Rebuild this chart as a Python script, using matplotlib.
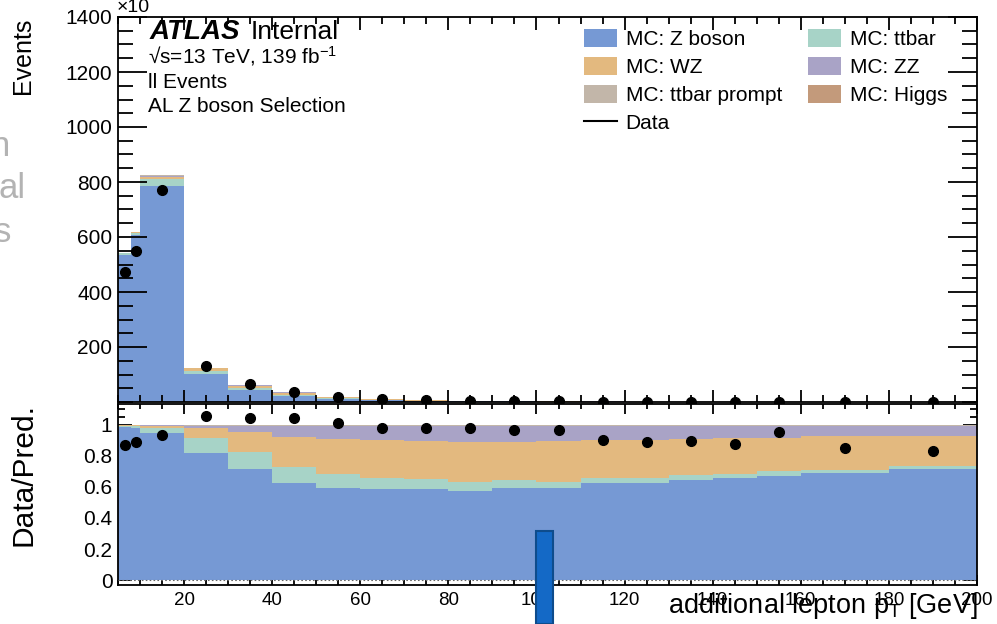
import matplotlib
matplotlib.use('Agg')
import matplotlib.pyplot as plt
import numpy as np
from matplotlib.patches import Rectangle, Patch
from matplotlib.lines import Line2D
from matplotlib.ticker import MultipleLocator, FixedLocator, FixedFormatter

plt.rcParams['font.family'] = ['Liberation Sans', 'DejaVu Sans']
plt.rcParams['mathtext.fontset'] = 'custom'
plt.rcParams['mathtext.rm'] = 'Liberation Sans'
plt.rcParams['mathtext.it'] = 'Liberation Sans:italic'
plt.rcParams['mathtext.bf'] = 'Liberation Sans:bold'

# ---------------- data (Events, x10) ----------------
bin_edges = [5, 8, 10, 20, 30, 40, 50, 60, 70, 80, 90, 100, 110, 120, 130,
             140, 150, 160, 180, 200]
z_boson = [534, 607, 785, 102, 44.6, 22.0, 11.6, 7.02, 4.72, 3.04, 2.15, 1.54,
           1.19, 0.88, 0.68, 0.525, 0.404, 0.31, 0.214]
ttbar = [6.5, 9.0, 25.0, 12.1, 6.7, 3.64, 1.68, 0.85, 0.51, 0.31, 0.17, 0.11,
         0.06, 0.045, 0.029, 0.023, 0.016, 0.0104, 0.0066]
wz = [0.5, 0.8, 8.0, 8.1, 8.0, 6.76, 4.49, 2.96, 1.94, 1.38, 0.90, 0.69,
      0.47, 0.345, 0.248, 0.183, 0.131, 0.097, 0.059]
zz = [0.5, 0.8, 5.0, 2.1, 2.4, 2.45, 1.62, 1.10, 0.78, 0.54, 0.37, 0.25,
      0.17, 0.126, 0.089, 0.065, 0.046, 0.031, 0.019]
ttbar_prompt = [0.6, 0.8, 1.5, 0.35, 0.2, 0.1, 0.06, 0.04, 0.03, 0.02, 0.012,
                0.008, 0.006, 0.004, 0.003, 0.002, 0.0016, 0.0013, 0.0009]
higgs = [0.4, 0.5, 0.8, 0.25, 0.15, 0.08, 0.04, 0.03, 0.02, 0.01, 0.008,
         0.005, 0.004, 0.003, 0.002, 0.0015, 0.001, 0.001, 0.0007]
data = [471, 550, 772, 132, 64.7, 36.5, 19.7, 11.8, 7.82, 5.21, 3.5, 2.52,
        1.72, 1.25, 0.94, 0.70, 0.571, 0.385, 0.25]

labels = ['MC: Z boson', 'MC: ttbar', 'MC: WZ', 'MC: ZZ', 'MC: ttbar prompt', 'MC: Higgs']
colors = ['#7699d4', '#a7d3c7', '#e3b97f', '#a9a3c6', '#c2b6a9', '#c39a7b']

y_ticks = [200, 400, 600, 800, 1000, 1200, 1400]
r_ticks = [0, 0.2, 0.4, 0.6, 0.8, 1.0]
r_ticklabels = ['0', '0.2', '0.4', '0.6', '0.8', '1']

# ---------------- figure ----------------
W, H = 997, 624
fig = plt.figure(figsize=(W / 100, H / 100), dpi=100)


def fx(px):
    return px / W


def fy(py):
    return 1 - py / H


ax1 = fig.add_axes([fx(118), fy(402), (977 - 118) / W, (402 - 17) / H])
ax2 = fig.add_axes([fx(118), fy(585), (977 - 118) / W, (585 - 404) / H])

edges = np.array(bin_edges, dtype=float)
centers = 0.5 * (edges[:-1] + edges[1:])
comps = [np.array(c, dtype=float) for c in [z_boson, ttbar, wz, zz, ttbar_prompt, higgs]]
total = np.sum(comps, axis=0)
base = np.zeros_like(total)
for vals, col in zip(comps, colors):
    ax1.stairs(base + vals, edges, baseline=base.copy(), fill=True, color=col, lw=0)
    ax2.stairs((base + vals) / total, edges, baseline=base / total, fill=True, color=col, lw=0)
    base = base + vals

d = np.array(data)
ax1.plot(centers, d, 'o', color='k', ms=7, zorder=5, clip_on=False)
ax2.plot(centers, d / total, 'o', color='k', ms=7, zorder=5)
ax2.axhline(0, color='#666666', ls=(0, (1.5, 2)), lw=0.8, zorder=3)

# ---------------- axes styling ----------------
for ax in (ax1, ax2):
    ax.set_xlim(5, 200)
    ax.xaxis.set_major_locator(MultipleLocator(20))
    ax.xaxis.set_minor_locator(MultipleLocator(5))
    ax.tick_params(which='both', direction='in', top=True, right=True, width=1.3)
    for s in ax.spines.values():
        s.set_linewidth(1.3)

ax1.set_ylim(0, 1400)
ax1.yaxis.set_major_locator(FixedLocator(y_ticks))
ax1.yaxis.set_minor_locator(MultipleLocator(50))
ax1.tick_params(axis='x', labelbottom=False)
ax1.tick_params(axis='y', which='major', length=21, labelsize=15, pad=4)
ax1.tick_params(axis='y', which='minor', length=11)
ax1.tick_params(axis='x', which='major', length=9)
ax1.tick_params(axis='x', which='minor', length=5)

ax2.set_ylim(-0.032, 1.135)
ax2.set_axisbelow(True)
ax2.yaxis.set_major_locator(FixedLocator(r_ticks))
ax2.yaxis.set_major_formatter(FixedFormatter(r_ticklabels))
ax2.yaxis.set_minor_locator(MultipleLocator(0.05))
ax2.tick_params(axis='y', which='major', length=10, labelsize=15, pad=4)
ax2.tick_params(axis='y', which='minor', length=5)
ax2.tick_params(axis='x', which='major', length=7, labelsize=13.5, pad=5)
ax2.tick_params(axis='x', which='minor', length=3.5)

# ---------------- texts ----------------
fig.text(fx(23), fy(56), 'Events', rotation=90, ha='center', va='center', fontsize=18)
fig.text(fx(24), fy(474), 'Data/Pred.', rotation=90, ha='center', va='center', fontsize=21.5)
fig.text(fx(978), fy(613), 'additional lepton p$_{\\mathrm{T}}$ [GeV]', ha='right',
         va='baseline', fontsize=19.5)
fig.text(fx(117), fy(12), '×10', ha='left', va='baseline', fontsize=14)

fig.text(fx(150), fy(39), 'ATLAS', fontsize=20, fontweight='bold', fontstyle='italic',
         va='baseline', ha='left')
fig.text(fx(251), fy(39), 'Internal', fontsize=19, va='baseline', ha='left')
fig.text(fx(148), fy(63), '√s=13 TeV, 139 fb$^{-1}$', fontsize=15, va='baseline', ha='left')
fig.text(fx(148), fy(88), 'll Events', fontsize=15, va='baseline', ha='left')
fig.text(fx(148), fy(112), 'AL Z boson Selection', fontsize=15, va='baseline', ha='left')

# legend
handles = [Patch(facecolor=colors[i], edgecolor='none') for i in [0, 2, 4]]
handles.append(Line2D([], [], color='k', lw=1.5))
handles += [Patch(facecolor=colors[i], edgecolor='none') for i in [1, 3, 5]]
leg_labels = [labels[0], labels[2], labels[4], 'Data', labels[1], labels[3], labels[5]]
fig.legend(handles, leg_labels, loc='upper left', bbox_to_anchor=(fx(584), fy(29)),
           ncol=2, fontsize=15, frameon=False, handlelength=1.6, handleheight=0.95,
           handletextpad=0.4, labelspacing=0.37, columnspacing=1.25, borderpad=0,
           borderaxespad=0)

# slide remnants
gray = '#b3b3b3'
fig.text(fx(10), fy(156), 'n', color=gray, fontsize=25, ha='right', va='baseline')
fig.text(fx(26), fy(198), 'al', color=gray, fontsize=25, ha='right', va='baseline')
fig.text(fx(11), fy(242), 's', color=gray, fontsize=25, ha='right', va='baseline')
fig.patches.append(Rectangle((fx(536), 0), (553 - 536) / W, (624 - 531) / H,
                             transform=fig.transFigure, facecolor='#1469c6',
                             edgecolor='#0e4c8c', lw=1.5, zorder=10))

fig.savefig('out.png', dpi=100)
